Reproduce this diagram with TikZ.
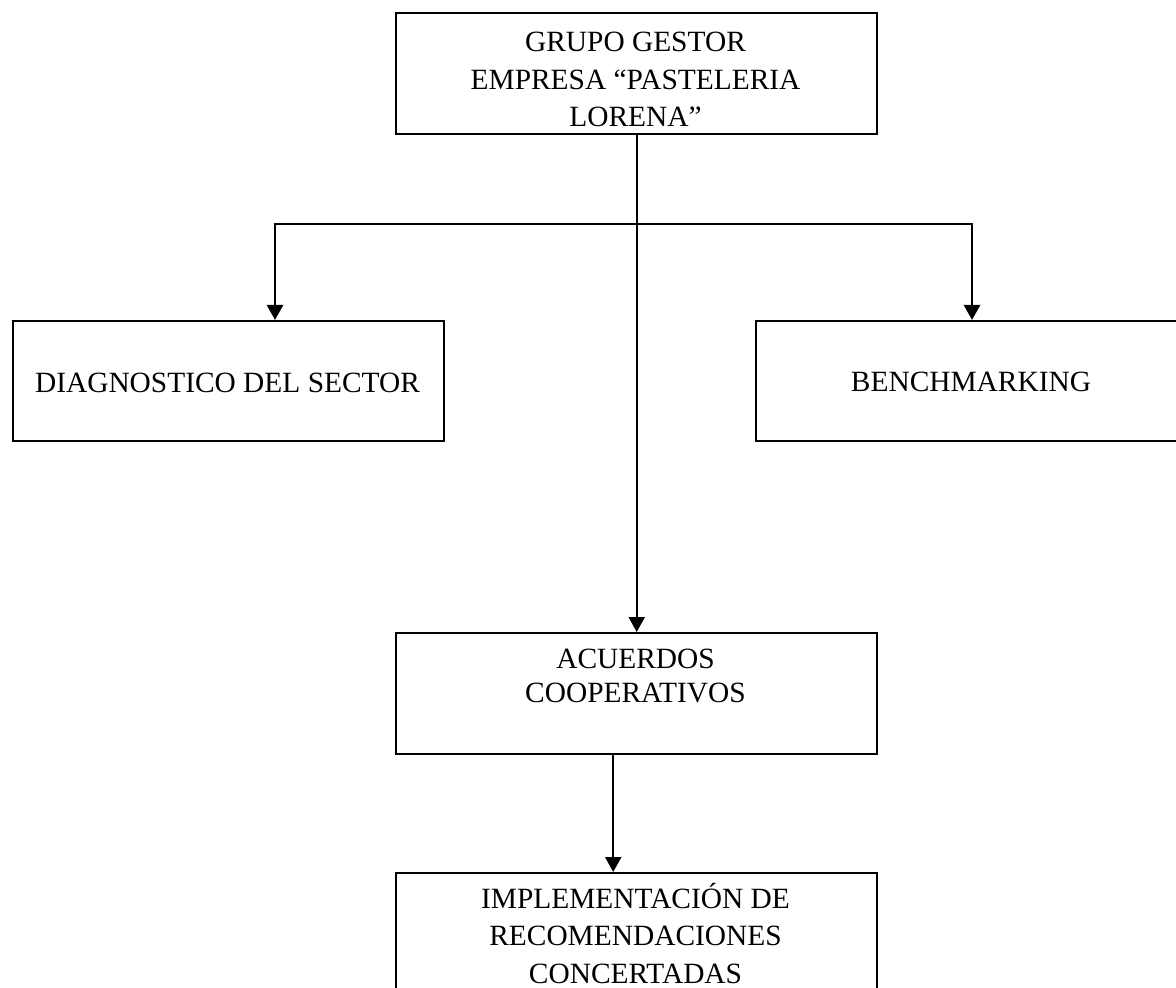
\documentclass[tikz,border=0pt]{standalone}
\usepackage{fontspec}
\setmainfont{Liberation Serif}
\usetikzlibrary{arrows.meta}
\tikzset{
  box/.style={draw, line width=1.2pt, rectangle, anchor=north west, inner sep=0pt},
  label text/.style={align=center, anchor=base, inner sep=0pt},
  conn/.style={line width=1.2pt, -{Triangle[length=7.5pt,width=8pt]}},
  conn2/.style={line width=1.2pt, {Triangle[length=7.5pt,width=8pt]}-{Triangle[length=7.5pt,width=8pt]}}
}
\begin{document}
\begin{tikzpicture}[x=0.5pt, y=-0.5pt]
\useasboundingbox (0,0) rectangle (1176,988);
\clip (0,0) rectangle (1176,988);

% boxes
\node[box, minimum width=240.5pt, minimum height=60.5pt] (gestor) at (395,12) {};
\node[box, minimum width=215.5pt, minimum height=60pt] (diag) at (12,320) {};
\node[box, minimum width=216pt, minimum height=60pt] (bench) at (755,320) {};
\node[box, minimum width=240.5pt, minimum height=60.5pt] (acuerdos) at (395,632) {};
\node[box, minimum width=240.5pt, minimum height=70pt] (impl) at (395,872) {};

% texts (anchored at the baseline of their last line)
\node[label text, font=\fontsize{14.7}{18.75}\selectfont] (tgestor) at (635.5,127)
  {GRUPO GESTOR\\EMPRESA “PASTELERIA\\LORENA”};
\node[label text, font=\fontsize{14.7}{17}\selectfont] (tdiag) at (227.5,393)
  {DIAGNOSTICO DEL SECTOR};
\node[label text, font=\fontsize{14.7}{17}\selectfont] (tbench) at (971,392)
  {BENCHMARKING};
\node[label text, font=\fontsize{14.7}{16.75}\selectfont] (tacuerdos) at (635.5,702)
  {ACUERDOS\\COOPERATIVOS};
\node[label text, font=\fontsize{14.7}{18.75}\selectfont] (timpl) at (635.5,983)
  {IMPLEMENTACIÓN DE\\RECOMENDACIONES\\CONCERTADAS};

% connectors
\coordinate (hl) at (275,224);
\coordinate (hr) at (972,224);
\draw[conn] (gestor.south) -- (acuerdos.north);
\draw[conn2] (hl |- diag.north) -- (hl) -- (hr) -- (hr |- bench.north);
\draw[conn] ([xshift=-11.75pt]acuerdos.south) -- ([xshift=-11.75pt]impl.north);
\end{tikzpicture}
\end{document}
